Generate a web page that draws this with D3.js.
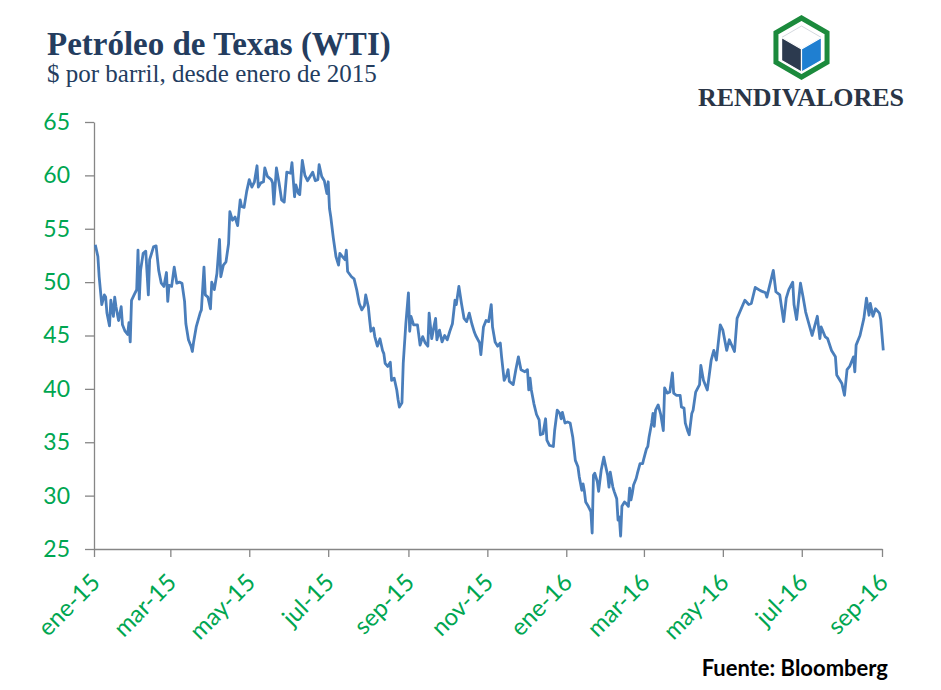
<!DOCTYPE html>
<html>
<head>
<meta charset="utf-8">
<script src="https://cdn.jsdelivr.net/npm/d3@7"></script>
<style>
  body { margin: 0; background: #fff; }
</style>
</head>
<body>
<script>
// WTI daily close
const dates = [
  "2015-01-02","2015-01-04","2015-01-05","2015-01-07","2015-01-09","2015-01-10","2015-01-11","2015-01-13","2015-01-14","2015-01-16",
  "2015-01-17","2015-01-18","2015-01-20","2015-01-22","2015-01-23","2015-01-25","2015-01-27","2015-01-28","2015-01-29","2015-01-30",
  "2015-02-01","2015-02-03","2015-02-04","2015-02-05","2015-02-06","2015-02-08","2015-02-10","2015-02-12","2015-02-13","2015-02-16",
  "2015-02-18","2015-02-20","2015-02-22","2015-02-24","2015-02-26","2015-02-27","2015-02-28","2015-03-02","2015-03-04","2015-03-06",
  "2015-03-08","2015-03-10","2015-03-12","2015-03-13","2015-03-15","2015-03-17","2015-03-18","2015-03-19","2015-03-21","2015-03-24",
  "2015-03-25","2015-03-27","2015-03-28","2015-03-30","2015-04-01","2015-04-02","2015-04-04","2015-04-06","2015-04-08","2015-04-09",
  "2015-04-11","2015-04-13","2015-04-15","2015-04-16","2015-04-18","2015-04-20","2015-04-22","2015-04-24","2015-04-25","2015-04-27",
  "2015-04-29","2015-05-01","2015-05-03","2015-05-05","2015-05-07","2015-05-08","2015-05-10","2015-05-12","2015-05-13","2015-05-15",
  "2015-05-18","2015-05-19","2015-05-20","2015-05-22","2015-05-24","2015-05-26","2015-05-28","2015-05-30","2015-06-02","2015-06-03",
  "2015-06-05","2015-06-06","2015-06-08","2015-06-09","2015-06-11","2015-06-13","2015-06-15","2015-06-17","2015-06-19","2015-06-21",
  "2015-06-23","2015-06-24","2015-06-26","2015-06-28","2015-06-30","2015-07-01","2015-07-02","2015-07-03","2015-07-05","2015-07-07",
  "2015-07-09","2015-07-10","2015-07-12","2015-07-14","2015-07-15","2015-07-16","2015-07-19","2015-07-21","2015-07-23","2015-07-25",
  "2015-07-27","2015-07-29","2015-07-30","2015-08-01","2015-08-02","2015-08-03","2015-08-05","2015-08-06","2015-08-08","2015-08-10",
  "2015-08-12","2015-08-13","2015-08-14","2015-08-16","2015-08-18","2015-08-19","2015-08-21","2015-08-23","2015-08-24","2015-08-25",
  "2015-08-27","2015-08-28","2015-08-30","2015-09-01","2015-09-02","2015-09-03","2015-09-05","2015-09-08","2015-09-10","2015-09-12",
  "2015-09-14","2015-09-16","2015-09-17","2015-09-19","2015-09-21","2015-09-22","2015-09-23","2015-09-25","2015-09-27","2015-09-29",
  "2015-10-01","2015-10-03","2015-10-05","2015-10-07","2015-10-08","2015-10-10","2015-10-12","2015-10-14","2015-10-16","2015-10-18",
  "2015-10-20","2015-10-22","2015-10-23","2015-10-26","2015-10-27","2015-10-29","2015-10-31","2015-11-02","2015-11-04","2015-11-05",
  "2015-11-07","2015-11-09","2015-11-11","2015-11-12","2015-11-14","2015-11-16","2015-11-17","2015-11-18","2015-11-21","2015-11-23",
  "2015-11-25","2015-11-27","2015-11-30","2015-12-02","2015-12-03","2015-12-04","2015-12-05","2015-12-07","2015-12-09","2015-12-11",
  "2015-12-12","2015-12-14","2015-12-16","2015-12-17","2015-12-19","2015-12-22","2015-12-23","2015-12-25","2015-12-27","2015-12-28",
  "2015-12-29","2015-12-31","2016-01-02","2016-01-04","2016-01-06","2016-01-08","2016-01-10","2016-01-11","2016-01-13","2016-01-14",
  "2016-01-15","2016-01-16","2016-01-18","2016-01-20","2016-01-21","2016-01-22","2016-01-23","2016-01-25","2016-01-26","2016-01-28",
  "2016-01-30","2016-01-31","2016-02-02","2016-02-03","2016-02-04","2016-02-06","2016-02-07","2016-02-09","2016-02-10","2016-02-11",
  "2016-02-12","2016-02-13","2016-02-15","2016-02-16","2016-02-18","2016-02-19","2016-02-20","2016-02-21","2016-02-22","2016-02-24",
  "2016-02-25","2016-02-27","2016-02-29","2016-03-01","2016-03-03","2016-03-04","2016-03-05","2016-03-07","2016-03-08","2016-03-09",
  "2016-03-10","2016-03-12","2016-03-14","2016-03-16","2016-03-17","2016-03-19","2016-03-21","2016-03-23","2016-03-24","2016-03-26",
  "2016-03-29","2016-03-30","2016-04-01","2016-04-02","2016-04-04","2016-04-05","2016-04-07","2016-04-08","2016-04-10","2016-04-13",
  "2016-04-14","2016-04-16","2016-04-19","2016-04-22","2016-04-24","2016-04-26","2016-04-29","2016-05-01","2016-05-04","2016-05-06",
  "2016-05-10","2016-05-12","2016-05-18","2016-05-21","2016-05-23","2016-05-26","2016-05-30","2016-06-03","2016-06-04","2016-06-06",
  "2016-06-09","2016-06-11","2016-06-14","2016-06-17","2016-06-19","2016-06-21","2016-06-24","2016-06-25","2016-06-27","2016-06-30",
  "2016-07-02","2016-07-04","2016-07-09","2016-07-13","2016-07-15","2016-07-16","2016-07-19","2016-07-21","2016-07-24","2016-07-27",
  "2016-07-28","2016-08-01","2016-08-03","2016-08-05","2016-08-07","2016-08-10","2016-08-11","2016-08-12","2016-08-15","2016-08-18",
  "2016-08-20","2016-08-22","2016-08-23","2016-08-25","2016-08-27","2016-08-30","2016-08-31","2016-09-02"
];

const prices = [
  53.5,52.4,50.5,47.9,48.8,48.6,47.1,45.9,48.3,46.8,
  48.6,47.7,46.4,47.7,46.0,45.4,45.1,46.2,44.4,48.3,
  48.8,49.3,53.0,48.4,51.1,52.7,52.9,48.8,52.1,53.3,
  53.4,51.1,49.9,49.6,50.9,48.2,49.7,49.6,51.4,49.9,
  50.0,49.9,48.2,46.1,44.6,44.0,43.5,44.4,45.8,47.1,
  47.4,51.4,48.8,48.6,47.5,50.0,49.3,50.8,54.0,50.5,
  51.6,51.9,53.6,56.6,55.8,56.1,55.3,57.7,57.1,57.0,
  58.5,59.6,58.9,59.4,60.9,58.9,59.3,59.4,60.7,59.9,
  59.6,59.3,57.3,60.7,59.3,57.7,57.5,60.3,60.2,61.2,
  58.0,59.1,58.3,58.2,61.4,60.0,59.5,59.9,60.3,59.5,
  59.6,61.0,59.9,59.5,58.3,59.4,56.9,56.1,54.1,52.4,
  51.6,52.7,52.4,52.1,53.0,51.0,50.5,50.3,49.3,48.0,
  47.4,47.8,48.8,47.7,46.5,45.4,45.7,44.9,44.0,44.7,
  43.6,43.3,42.4,42.1,42.5,40.8,41.0,39.9,39.0,38.3,
  38.7,42.4,46.1,49.0,45.4,46.8,46.0,46.0,44.1,44.9,
  44.3,44.0,47.1,44.7,46.0,46.6,44.6,45.5,44.4,45.0,
  44.6,45.4,46.1,48.3,47.9,49.6,48.0,46.6,46.3,47.1,
  46.1,45.3,45.0,44.3,43.2,45.8,46.4,46.3,47.9,45.8,
  44.4,44.0,44.3,43.0,40.8,41.3,41.8,40.7,40.4,41.8,
  43.0,41.8,41.6,41.8,39.9,41.0,39.9,38.6,37.6,37.1,
  35.7,35.8,37.2,35.2,34.7,34.6,36.1,38.0,37.7,37.2,
  37.8,36.8,36.9,36.8,35.5,33.3,32.7,31.8,30.5,31.1,
  30.4,29.4,29.0,28.5,26.5,31.9,32.1,31.3,30.4,32.4,
  33.6,33.0,31.9,30.8,32.2,30.8,30.4,29.7,27.7,28.0,
  26.2,29.0,29.4,29.3,29.0,30.7,29.6,30.2,31.0,31.6,
  32.1,33.0,33.0,33.5,34.4,34.6,35.5,36.8,37.7,36.5,
  38.0,38.5,37.6,36.1,40.1,39.6,39.7,41.5,39.6,39.4,
  39.4,38.3,38.2,36.8,36.0,35.7,37.7,38.0,39.7,40.4,
  42.2,40.8,39.9,42.7,43.6,42.7,46.0,45.5,43.6,44.6,
  43.5,46.6,48.3,47.9,48.0,49.5,49.2,49.0,48.6,49.6,
  51.1,49.1,48.8,46.3,48.5,49.3,50.0,47.9,46.5,49.9,
  48.6,47.2,45.0,46.8,44.7,45.8,44.9,44.7,43.6,43.0,
  41.3,40.5,39.4,41.8,42.1,43.0,41.6,44.1,45.0,46.6,
  48.5,46.9,48.0,46.8,47.5,47.1,46.5,43.6
];

const yTicks = [25, 30, 35, 40, 45, 50, 55, 60, 65];
const xTickDates = ["2015-01-01","2015-03-01","2015-05-01","2015-07-01","2015-09-01","2015-11-01",
                    "2016-01-01","2016-03-01","2016-05-01","2016-07-01","2016-09-01"];
const xTickLabels = ["ene-15","mar-15","may-15","jul-15","sep-15","nov-15",
                     "ene-16","mar-16","may-16","jul-16","sep-16"];

const width = 941, height = 690;
const margin = { top: 122, right: 59, bottom: 141, left: 94 };
const parse = d3.utcParse("%Y-%m-%d");
const data = dates.map((d, i) => ({ date: parse(d), value: prices[i] }));

const navy = "#243d5f";
const green = "#00a651";
const axisGrey = "#868686";

const svg = d3.select("body").append("svg")
  .attr("width", width)
  .attr("height", height)
  .attr("xmlns", "http://www.w3.org/2000/svg");

const x = d3.scaleUtc()
  .domain([parse("2015-01-01"), parse("2016-09-01")])
  .range([margin.left, width - margin.right]);

const y = d3.scaleLinear()
  .domain([25, 65])
  .range([height - margin.bottom, margin.top]);

// title block
svg.append("text")
  .attr("x", 47).attr("y", 55)
  .attr("fill", navy)
  .attr("style", "font-family:'Liberation Serif','DejaVu Serif',serif; font-size:33px; font-weight:bold;")
  .text("Petróleo de Texas (WTI)");

svg.append("text")
  .attr("x", 47).attr("y", 82)
  .attr("fill", navy)
  .attr("style", "font-family:'Liberation Serif','DejaVu Serif',serif; font-size:25px;")
  .text("$ por barril, desde enero de 2015");

// logo
const logo = svg.append("g").attr("transform", "translate(801.5,47.5)");
const hex = (r) => d3.range(6).map(k => {
  const a = Math.PI / 3 * k - Math.PI / 2;
  return [r * Math.cos(a), r * Math.sin(a)];
});
logo.append("polygon")
  .attr("points", hex(29.5).join(" "))
  .attr("fill", "#fff")
  .attr("stroke", "#1b8a3c")
  .attr("stroke-width", 5);
const c = hex(23).map(p => [p[0], p[1] + 1.5]);
const mid = [0, 1.5];
logo.append("polygon").attr("points", [c[0], c[1], mid, c[5]].join(" "))
  .attr("fill", "#fff").attr("stroke", "#c9ced6").attr("stroke-width", 0.8);
logo.append("polygon").attr("points", [c[5], mid, c[3], c[4]].join(" "))
  .attr("fill", "#2c3a4f").attr("stroke", "#fff").attr("stroke-width", 1.2);
logo.append("polygon").attr("points", [mid, c[1], c[2], c[3]].join(" "))
  .attr("fill", "#1f7fd1").attr("stroke", "#fff").attr("stroke-width", 1.2);

svg.append("text")
  .attr("x", 801).attr("y", 106)
  .attr("text-anchor", "middle")
  .attr("fill", "#2a3546")
  .attr("style", "font-family:'Liberation Serif','DejaVu Serif',serif; font-size:26px; font-weight:bold;")
  .text("RENDIVALORES");

// axes
const yAxis = svg.append("g")
  .attr("transform", `translate(${margin.left},0)`)
  .call(d3.axisLeft(y).tickValues(yTicks).tickSize(9).tickSizeOuter(0).tickPadding(15));

const xAxis = svg.append("g")
  .attr("transform", `translate(0,${height - margin.bottom})`)
  .call(d3.axisBottom(x).tickValues(xTickDates.map(parse)).tickSize(8).tickSizeOuter(0)
    .tickFormat((d, i) => xTickLabels[i]));

[yAxis, xAxis].forEach(g => {
  g.select(".domain").attr("stroke", axisGrey).attr("stroke-width", 1.3);
  g.selectAll(".tick line").attr("stroke", axisGrey).attr("stroke-width", 1.3);
  g.selectAll(".tick text")
    .attr("fill", green)
    .attr("style", "font-family:Lato,'Open Sans',sans-serif; font-size:23px;");
});

xAxis.selectAll(".tick text")
  .attr("text-anchor", "end")
  .attr("dy", null)
  .attr("y", null)
  .attr("style", "font-family:Lato,'Open Sans',sans-serif; font-size:24px;")
  .attr("transform", "translate(7,35) rotate(-45)");

// price line
svg.append("path")
  .datum(data)
  .attr("fill", "none")
  .attr("stroke", "#4a7ebb")
  .attr("stroke-width", 2.8)
  .attr("stroke-linejoin", "round")
  .attr("d", d3.line().x(d => x(d.date)).y(d => y(d.value)));

svg.append("text")
  .attr("x", 888).attr("y", 676)
  .attr("text-anchor", "end")
  .attr("fill", "#000")
  .attr("style", "font-family:Lato,'Open Sans',sans-serif; font-size:22px; font-weight:bold;")
  .text("Fuente: Bloomberg");
</script>
</body>
</html>
